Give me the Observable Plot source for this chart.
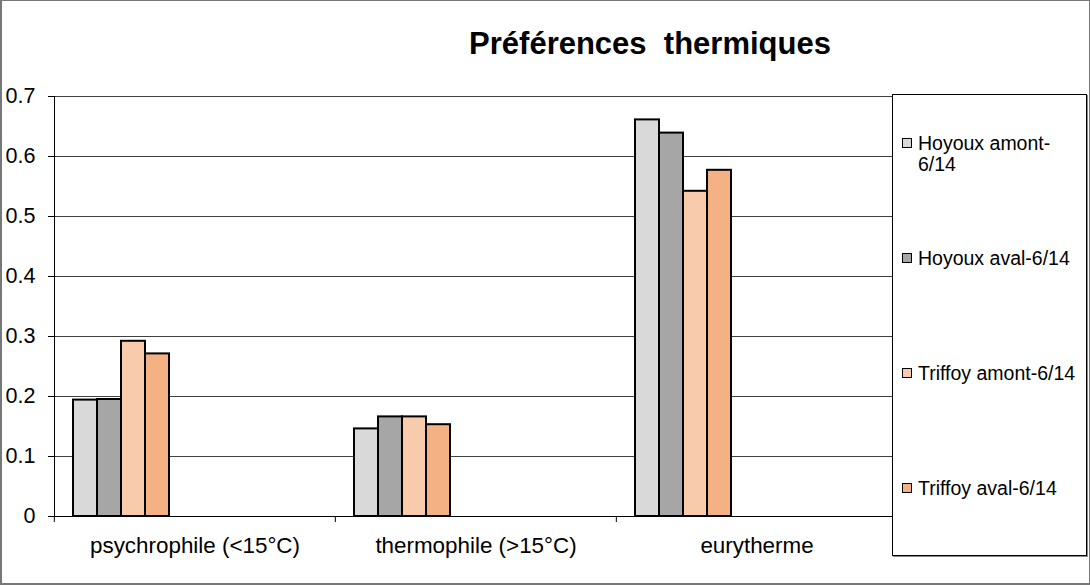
<!DOCTYPE html>
<html>
<head>
<meta charset="utf-8">
<script src="https://cdn.jsdelivr.net/npm/d3@7"></script>
<script src="https://cdn.jsdelivr.net/npm/@observablehq/plot@0.6"></script>
<style>
  body { margin: 0; background: #fff; font-family: "Liberation Sans", Arial, sans-serif; }
  #wrap { position: relative; width: 1090px; height: 585px; overflow: hidden; background: #fff; }
  #chart { position: absolute; left: 0; top: 0; }
  #frame { position: absolute; left: 0; top: 0; width: 1090px; height: 585px; box-sizing: border-box;
           border: 1px solid #777; border-left-width: 2px; border-bottom-width: 2px; pointer-events: none; }
  #title { position: absolute; top: 28px; left: 650px; transform: translateX(-50%); font-weight: bold;
           font-size: 31px; line-height: 1; white-space: pre; color: #000; }
  #legend { position: absolute; left: 892px; top: 94px; width: 195px; height: 462px; box-sizing: border-box;
            border: 1px solid #000; background: #fff; box-shadow: 1px 1px 0 #888; }
  .item { position: absolute; left: 9px; display: flex; align-items: flex-start; font-size: 19.5px; line-height: 21px; color: #000; }
  .sw { flex: none; width: 8px; height: 8px; border: 1.6px solid #000; margin-top: 5px; margin-right: 6px; }
  .lbl { max-width: 162px; }
</style>
</head>
<body>
<div id="wrap">
  <div id="chart"></div>
  <div id="title"></div>
  <div id="legend"></div>
  <div id="frame"></div>
</div>
<script>
// ---- data ----
const title = "Préférences  thermiques";
const categories = ["psychrophile (<15°C)", "thermophile (>15°C)", "eurytherme"];
const series = ["Hoyoux amont-6/14", "Hoyoux aval-6/14", "Triffoy amont-6/14", "Triffoy aval-6/14"];
const colors = ["#d9d9d9", "#a6a6a6", "#f8cbad", "#f4b183"];
const psychrophile = [0.194, 0.195, 0.292, 0.271];
const thermophile = [0.146, 0.166, 0.166, 0.153];
const eurytherme = [0.661, 0.639, 0.542, 0.577];
const yTicks = [0, 0.1, 0.2, 0.3, 0.4, 0.5, 0.6, 0.7];
const yTickLabels = ["0", "0.1", "0.2", "0.3", "0.4", "0.5", "0.6", "0.7"];

// ---- build table ----
const valuesByCategory = [psychrophile, thermophile, eurytherme];
const data = categories.flatMap((c, i) =>
  series.map((s, j) => ({category: c, series: s, value: valuesByCategory[i][j]})));

// ---- layout ----
const W = 1090, H = 585, mL = 53, mR = 193, mT = 96, mB = 69;
const step = (W - mL - mR) / categories.length;

const chart = Plot.plot({
  width: W, height: H,
  marginLeft: mL, marginRight: mR, marginTop: mT, marginBottom: mB,
  style: {fontFamily: "'Liberation Sans', Arial, sans-serif", fontSize: "19px", color: "#000", background: "transparent", overflow: "visible"},
  fx: {domain: categories, padding: 0, label: null},
  x: {domain: series, paddingInner: 0, paddingOuter: 3.745, align: 0.1035, axis: null},
  y: {domain: [0, 0.7], label: null},
  color: {domain: series, range: colors},
  marks: [
    Plot.gridY(yTicks, {stroke: "#000", strokeOpacity: 0.75}),
    Plot.axisY(yTicks, {tickSize: 6, tickPadding: 13, label: null, fontSize: 21.5,
      tickFormat: d => yTickLabels[yTicks.indexOf(d)]}),
    Plot.axisFx({anchor: "bottom", tickSize: 0, tickPadding: 21, fontSize: 22.4, label: null}),
    Plot.axisFx({anchor: "bottom", tickSize: 6, tickFormat: () => "", dx: -step / 2, label: null}),
    Plot.barY(data, {fx: "category", x: "series", y: "value", fill: "series", stroke: "#000", strokeWidth: 2}),
    Plot.ruleY([0], {stroke: "#000"}),
    Plot.frame({anchor: "left", facetAnchor: "left", stroke: "#000"})
  ]
});
document.getElementById("chart").appendChild(chart);

// ---- title ----
document.getElementById("title").textContent = title;

// ---- legend ----
const legend = document.getElementById("legend");
series.forEach((s, i) => {
  const item = document.createElement("div");
  item.className = "item";
  item.style.top = (38 + i * 115) + "px";
  const sw = document.createElement("span");
  sw.className = "sw";
  sw.style.background = colors[i];
  const lbl = document.createElement("span");
  lbl.className = "lbl";
  lbl.textContent = s;
  item.appendChild(sw);
  item.appendChild(lbl);
  legend.appendChild(item);
});
</script>
</body>
</html>
